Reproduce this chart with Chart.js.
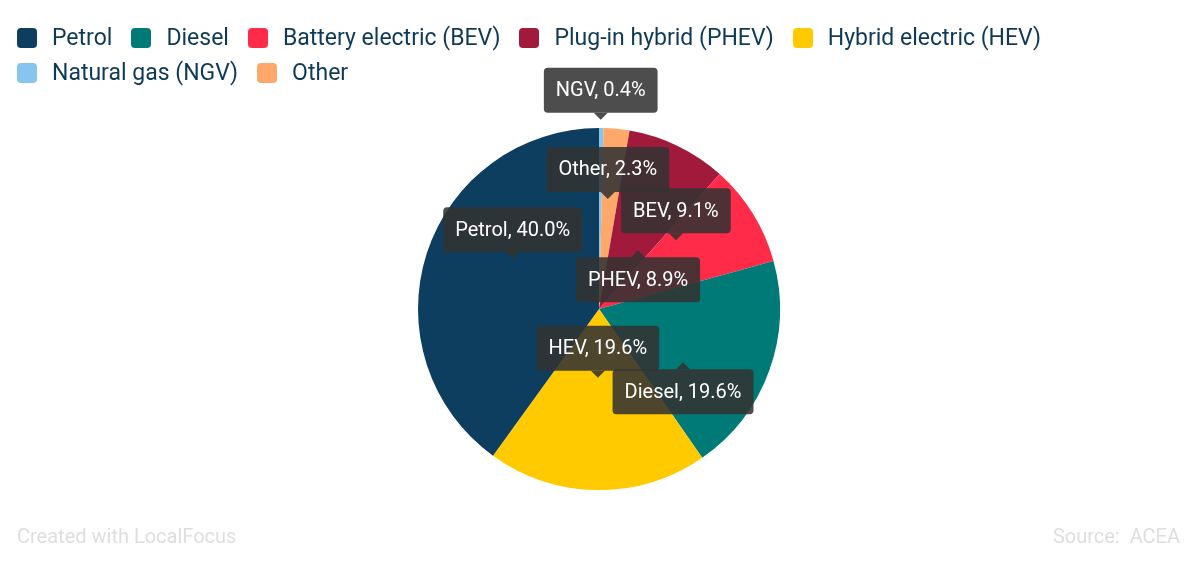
<!DOCTYPE html>
<html>
<head>
<meta charset="utf-8">
<script src="https://cdn.jsdelivr.net/npm/chart.js@4.4.1/dist/chart.umd.min.js"></script>
<style>
  html, body { margin: 0; padding: 0; background: #fff; }
  #wrap { position: relative; width: 1200px; height: 565px; overflow: hidden; font-family: Roboto, "Noto Sans", sans-serif; }
  #chart { position: absolute; left: 0; top: 0; }
  #legend { position: absolute; left: 17px; top: 20px; width: 1080px; display: flex; flex-wrap: wrap; }
  .item { display: flex; align-items: center; height: 35px; margin-right: 19px; font-size: 23px; color: #0f3a57; white-space: nowrap; }
  .sw { width: 20px; height: 20px; border-radius: 4px; margin-right: 15px; flex: none; }
  .foot { position: absolute; top: 524px; font-size: 20px; color: #dedede; }
</style>
</head>
<body>
<div id="wrap">
  <canvas id="chart" width="1200" height="565"></canvas>
  <div id="legend"></div>
  <div class="foot" style="left:17px">Created with LocalFocus</div>
  <div class="foot" style="right:20px">Source:&nbsp; ACEA</div>
</div>
<script>
// Legend order
const categories = ["Petrol", "Diesel", "Battery electric (BEV)", "Plug-in hybrid (PHEV)", "Hybrid electric (HEV)", "Natural gas (NGV)", "Other"];
const shortNames = ["Petrol", "Diesel", "BEV", "PHEV", "HEV", "NGV", "Other"];
const shares = [40.0, 19.6, 9.1, 8.9, 19.6, 0.4, 2.3];
const colors = ["#0e3e5f", "#007a77", "#ff2b48", "#a11a3b", "#ffca00", "#86c5ee", "#ffa86a"];
// Clockwise drawing order from the top of the pie (indices into the arrays above)
const pieOrder = [5, 6, 3, 2, 1, 4, 0];
// Label placement: fraction of radius, angle nudge (deg), box side
const labelRadius = {Petrol: 0.55, Diesel: 0.55, BEV: 0.57, PHEV: 0.39, HEV: 0.38, NGV: 1.045, Other: 0.61};
const labelNudge  = {Petrol: 12, Diesel: 12.5, BEV: -10, PHEV: 7.8, HEV: 0.4, NGV: -0.2, Other: -1};
const labelBelow  = {Diesel: true, PHEV: true};
const labelDrawOrder = ["NGV", "Petrol", "Other", "BEV", "PHEV", "HEV", "Diesel"];

// HTML legend
const lg = document.getElementById('legend');
categories.forEach((c, i) => {
  const d = document.createElement('div'); d.className = 'item';
  const s = document.createElement('span'); s.className = 'sw'; s.style.background = colors[i];
  const t = document.createElement('span'); t.textContent = c;
  d.appendChild(s); d.appendChild(t); lg.appendChild(d);
});

const labelsPlugin = {
  id: 'boxLabels',
  afterDatasetsDraw(chart) {
    const ctx = chart.ctx;
    const meta = chart.getDatasetMeta(0);
    const names = chart.data.labels;
    ctx.save();
    ctx.font = '20px Roboto, "Noto Sans", sans-serif';
    ctx.textAlign = 'center';
    ctx.textBaseline = 'middle';
    labelDrawOrder.forEach(name => {
      const idx = names.indexOf(name);
      const arc = meta.data[idx];
      const p = arc.getProps(['x', 'y', 'startAngle', 'endAngle', 'outerRadius'], true);
      const mid = (p.startAngle + p.endAngle) / 2 + labelNudge[name] * Math.PI / 180;
      const r = p.outerRadius * labelRadius[name];
      const tx = p.x + Math.cos(mid) * r;
      const ty = p.y + Math.sin(mid) * r;
      const val = chart.data.datasets[0].data[idx];
      const text = name + ', ' + val.toFixed(1) + '%';
      const w = ctx.measureText(text).width + 24;
      const h = 45, ah = 7, aw = 7;
      const below = !!labelBelow[name];
      const bx = tx - w / 2;
      const by = below ? ty + ah : ty - ah - h;
      ctx.fillStyle = 'rgba(51,51,51,0.87)';
      ctx.beginPath();
      ctx.roundRect(bx, by, w, h, 4);
      ctx.fill();
      ctx.beginPath();
      if (below) {
        ctx.moveTo(tx - aw, by); ctx.lineTo(tx, ty); ctx.lineTo(tx + aw, by);
      } else {
        ctx.moveTo(tx - aw, by + h); ctx.lineTo(tx, ty); ctx.lineTo(tx + aw, by + h);
      }
      ctx.closePath(); ctx.fill();
      ctx.fillStyle = '#ffffff';
      ctx.fillText(text, tx, by + h / 2 + 1);
    });
    ctx.restore();
  }
};

new Chart(document.getElementById('chart'), {
  type: 'pie',
  data: {
    labels: pieOrder.map(i => shortNames[i]),
    datasets: [{
      data: pieOrder.map(i => shares[i]),
      backgroundColor: pieOrder.map(i => colors[i]),
      borderWidth: 0
    }]
  },
  options: {
    responsive: false,
    animation: false,
    layout: { padding: { top: 128, bottom: 75, left: 418, right: 420 } },
    plugins: { legend: { display: false }, tooltip: { enabled: false } }
  },
  plugins: [labelsPlugin]
});
</script>
</body>
</html>
